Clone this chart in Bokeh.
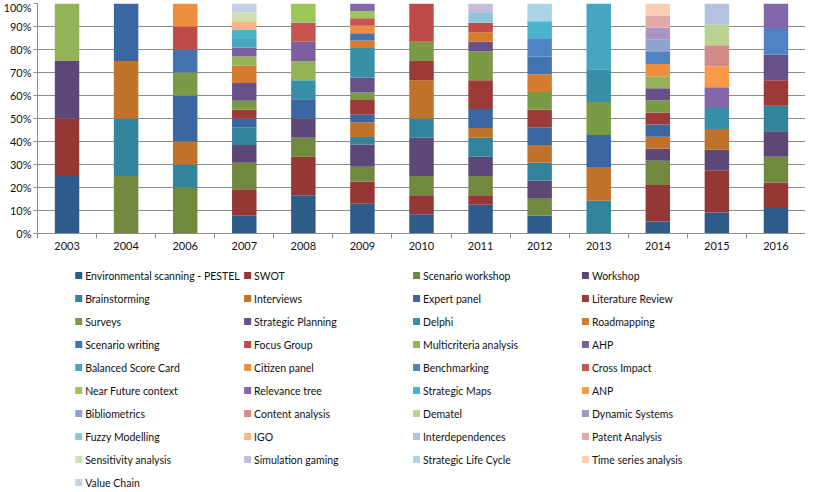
from bokeh.plotting import figure
from bokeh.models import ColumnDataSource, FixedTicker, PrintfTickFormatter
from bokeh.layouts import column
from bokeh.core.properties import value
from bokeh.embed import file_html
from bokeh.resources import INLINE

years = ["2003", "2004", "2006", "2007", "2008", "2009", "2010",
         "2011", "2012", "2013", "2014", "2015", "2016"]

methods = [
    "Environmental scanning - PESTEL", "SWOT", "Scenario workshop", "Workshop",
    "Brainstorming", "Interviews", "Expert panel", "Literature Review",
    "Surveys", "Strategic Planning", "Delphi", "Roadmapping",
    "Scenario writing", "Focus Group", "Multicriteria analysis", "AHP",
    "Balanced Score Card", "Citizen panel", "Benchmarking", "Cross Impact",
    "Near Future context", "Relevance tree", "Strategic Maps", "ANP",
    "Bibliometrics", "Content analysis", "Dematel", "Dynamic Systems",
    "Fuzzy Modelling", "IGO", "Interdependences", "Patent Analysis",
    "Sensitivity analysis", "Simulation gaming", "Strategic Life Cycle", "Time series analysis",
    "Value Chain",
]

colors = [
    "#2f5b8a", "#953735", "#71893f", "#5c4776",
    "#31849b", "#c0712a", "#3a66a2", "#9c3a38",
    "#7a9a45", "#67518b", "#3790a8", "#d67a2e",
    "#4473b1", "#be4b48", "#93b356", "#7b5fa0",
    "#46a6c0", "#ef8e3f", "#4f83c3", "#c65450",
    "#9cc55a", "#8467ab", "#4db2cc", "#f99a48",
    "#8da5cf", "#d48a88", "#bbd391", "#a895c4",
    "#8cc6db", "#fbb38a", "#b3c2e0", "#e3a9a8",
    "#cfe0b3", "#c6bcdc", "#abd4e6", "#fccdb0",
    "#c5cfe8",
]

# number of papers per method (same order as `methods`), one list per year
c2003 = [1, 1, 0, 1, 0, 0, 0, 0, 0, 0, 0, 0, 0, 0, 1, 0, 0, 0, 0, 0, 0, 0, 0, 0, 0, 0, 0, 0, 0, 0, 0, 0, 0, 0, 0, 0, 0]
c2004 = [0, 0, 1, 0, 1, 1, 1, 0, 0, 0, 0, 0, 0, 0, 0, 0, 0, 0, 0, 0, 0, 0, 0, 0, 0, 0, 0, 0, 0, 0, 0, 0, 0, 0, 0, 0, 0]
c2006 = [0, 0, 2, 0, 1, 1, 2, 0, 1, 0, 0, 0, 1, 1, 0, 0, 0, 1, 0, 0, 0, 0, 0, 0, 0, 0, 0, 0, 0, 0, 0, 0, 0, 0, 0, 0, 0]
c2007 = [2, 3, 3, 2, 2, 0, 1, 1, 1, 2, 0, 2, 0, 0, 1, 1, 1, 0, 0, 0, 0, 0, 1, 0, 0, 0, 0, 0, 0, 1, 0, 0, 1, 0, 0, 0, 1]
c2008 = [2, 2, 1, 1, 0, 0, 1, 0, 0, 0, 1, 0, 0, 0, 1, 1, 0, 0, 0, 1, 1, 0, 0, 0, 0, 0, 0, 0, 0, 0, 0, 0, 0, 0, 0, 0, 0]
c2009 = [4, 3, 2, 3, 1, 2, 1, 2, 1, 2, 4, 1, 1, 0, 0, 0, 0, 1, 0, 1, 1, 1, 0, 0, 0, 0, 0, 0, 0, 0, 0, 0, 0, 0, 0, 0, 0]
c2010 = [1, 1, 1, 2, 1, 2, 0, 1, 1, 0, 0, 0, 0, 2, 0, 0, 0, 0, 0, 0, 0, 0, 0, 0, 0, 0, 0, 0, 0, 0, 0, 0, 0, 0, 0, 0, 0]
c2011 = [3, 1, 2, 2, 2, 1, 2, 3, 3, 1, 0, 1, 0, 1, 0, 0, 0, 0, 0, 0, 0, 0, 0, 0, 0, 0, 0, 0, 1, 0, 0, 0, 0, 1, 0, 0, 0]
c2012 = [1, 0, 1, 1, 1, 1, 1, 1, 1, 0, 0, 1, 1, 0, 0, 0, 0, 0, 1, 0, 0, 0, 1, 0, 0, 0, 0, 0, 0, 0, 0, 0, 0, 0, 1, 0, 0]
c2013 = [0, 0, 0, 0, 1, 1, 1, 0, 1, 0, 1, 0, 0, 0, 0, 0, 2, 0, 0, 0, 0, 0, 0, 0, 0, 0, 0, 0, 0, 0, 0, 0, 0, 0, 0, 0, 0]
c2014 = [1, 3, 2, 1, 0, 1, 1, 1, 1, 1, 0, 0, 0, 0, 1, 0, 0, 1, 1, 0, 0, 0, 0, 0, 1, 0, 0, 1, 0, 0, 0, 1, 0, 0, 0, 1, 0]
c2015 = [1, 2, 0, 1, 0, 1, 0, 0, 0, 0, 1, 0, 0, 0, 0, 0, 0, 0, 0, 0, 0, 1, 0, 1, 0, 1, 1, 0, 0, 0, 1, 0, 0, 0, 0, 0, 0]
c2016 = [1, 1, 1, 1, 1, 0, 0, 1, 0, 1, 0, 0, 0, 0, 0, 0, 0, 0, 1, 0, 0, 1, 0, 0, 0, 0, 0, 0, 0, 0, 0, 0, 0, 0, 0, 0, 0]

yearly = [c2003, c2004, c2006, c2007, c2008, c2009, c2010,
          c2011, c2012, c2013, c2014, c2015, c2016]

# ---- build percentage table ----
keys = ["m%d" % i for i in range(len(methods))]
data = {"x": [i + 0.5 for i in range(len(years))]}
for j, k in enumerate(keys):
    data[k] = [row[j] * 100.0 / sum(row) for row in yearly]
source = ColumnDataSource(data)

GRID = "#8c8c8c"
FONT = "Lato"
TXT = "#111111"
W = 805
LEFT = 32          # left border of chart (frame starts here)
H_CHART = 255
H_LEG = 234

p = figure(width=W, height=H_CHART, x_range=(0, len(years)), y_range=(0, 100),
           output_backend="svg", toolbar_location=None,
           min_border_top=3, min_border_right=0, min_border_left=LEFT,
           min_border_bottom=22)
p.outline_line_color = None

renderers = p.vbar_stack(keys, x="x", width=0.414, source=source,
                         fill_color=colors, line_color=None)

# y axis
yt = FixedTicker(ticks=list(range(0, 101, 10)))
p.yaxis.ticker = yt
p.yaxis.formatter = PrintfTickFormatter(format="%d%%")
p.yaxis.axis_line_color = GRID
p.yaxis.major_tick_line_color = GRID
p.yaxis.major_tick_out = 4
p.yaxis.major_tick_in = 0
p.yaxis.minor_tick_line_color = None
p.yaxis.major_label_standoff = 2
p.yaxis.major_label_text_font = FONT
p.yaxis.major_label_text_font_size = "11px"
p.yaxis.major_label_text_color = TXT

# x axis: labels at bar centres, tick marks between categories
xt = FixedTicker(ticks=[i + 0.5 for i in range(len(years))],
                 minor_ticks=list(range(len(years) + 1)))
p.xaxis.ticker = xt
p.xaxis.major_label_overrides = {i + 0.5: y for i, y in enumerate(years)}
p.xaxis.axis_line_color = GRID
p.xaxis.major_tick_line_color = None
p.xaxis.major_tick_out = 0
p.xaxis.major_tick_in = 0
p.xaxis.minor_tick_line_color = GRID
p.xaxis.minor_tick_out = 5
p.xaxis.minor_tick_in = 0
p.xaxis.major_label_standoff = 3
p.xaxis.major_label_text_font = FONT
p.xaxis.major_label_text_font_size = "11px"
p.xaxis.major_label_text_color = TXT

p.xgrid.visible = False
p.ygrid.ticker = yt
p.ygrid.grid_line_color = GRID

# ---- legend: 4 columns, row-major, drawn in its own pixel-scaled figure ----
# the legend figure's frame is aligned with the chart frame, so its x range
# is expressed in page pixels from the chart frame's left edge
NCOL = 4
COL_W = 170
ROW_H = 23
X0 = 78       # page x of first swatch
Y0 = 20       # centre of first row (from top of legend figure)
SW = 7        # swatch size
idx = list(range(len(methods)))
leg_src = ColumnDataSource(dict(
    sx=[X0 + SW / 2 + COL_W * (i % NCOL) for i in idx],
    tx=[X0 + SW + 3 + COL_W * (i % NCOL) for i in idx],
    y=[Y0 + ROW_H * (i // NCOL) for i in idx],
    label=methods,
    color=colors,
))
leg = figure(width=W, height=H_LEG, x_range=(8 + LEFT, 8 + W), y_range=(H_LEG, 0),
             output_backend="svg", toolbar_location=None,
             min_border=0, min_border_left=LEFT, x_axis_type=None, y_axis_type=None)
leg.outline_line_color = None
leg.grid.visible = False
leg.rect(x="sx", y="y", width=SW, height=SW, width_units="screen",
         height_units="screen", fill_color="color", line_color=None,
         source=leg_src)
leg.text(x="tx", y="y", text="label", text_baseline="middle", text_align="left",
         text_font=value(FONT), text_font_size="10.5px", text_color=TXT,
         source=leg_src)

layout = column(p, leg, spacing=0)
open("out.html", "w").write(file_html(layout, INLINE))
